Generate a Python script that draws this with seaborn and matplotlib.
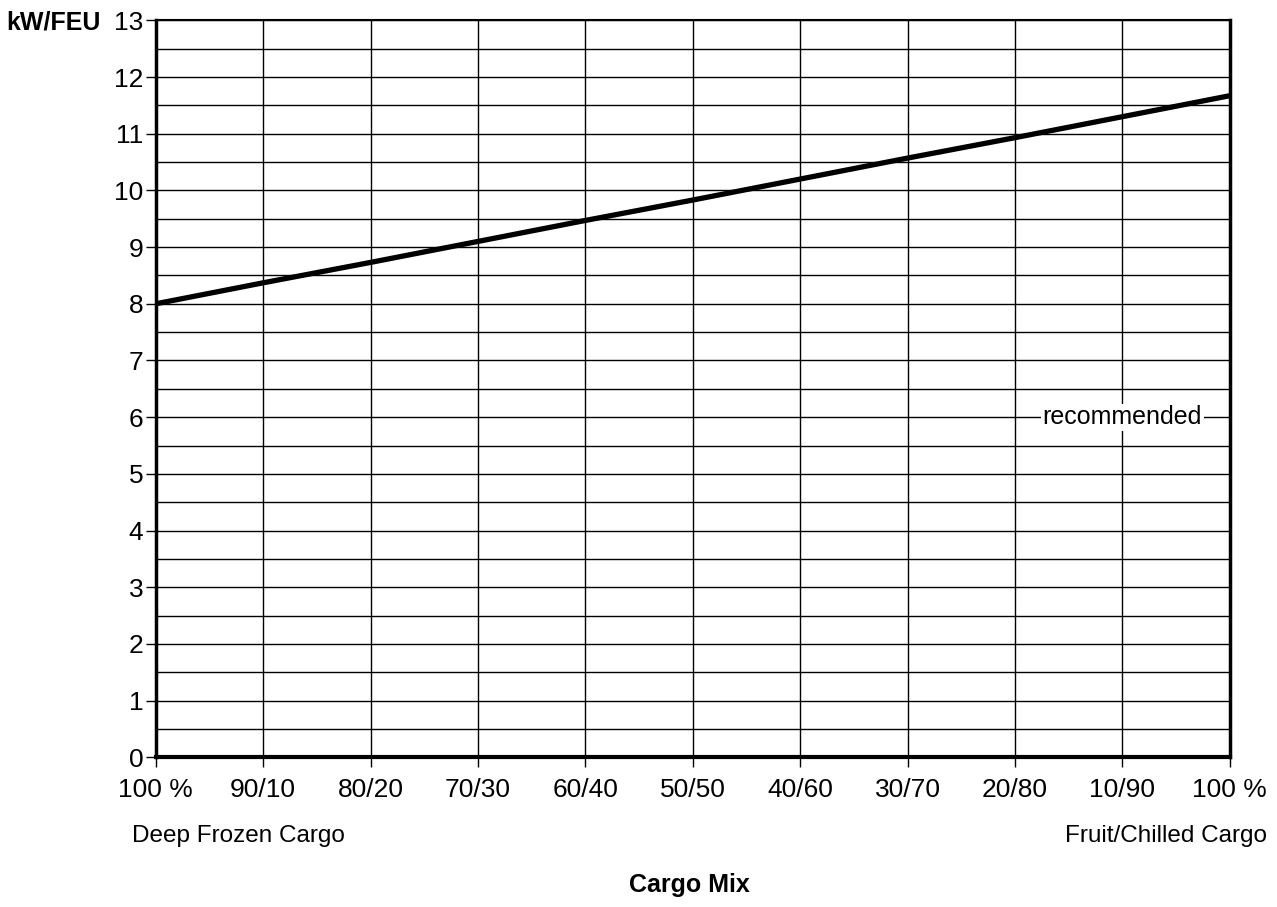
import seaborn as sns
import matplotlib.pyplot as plt
import pandas as pd
import numpy as np

# cargo mix categories (deep frozen / chilled)
mix_labels = ['100 %', '90/10', '80/20', '70/30', '60/40', '50/50',
              '40/60', '30/70', '20/80', '10/90', '100 %']
kw_per_feu = [8.0, 8.37, 8.73, 9.1, 9.47, 9.83, 10.2, 10.57, 10.93, 11.3, 11.67]
y_ticks = list(range(0, 14))

df = pd.DataFrame({'pos': np.arange(len(mix_labels)), 'kw': kw_per_feu})

sns.set_style('white')
plt.rcParams['font.family'] = ['Liberation Sans', 'DejaVu Sans']
plt.rcParams['text.color'] = 'black'
plt.rcParams['xtick.color'] = 'black'
plt.rcParams['ytick.color'] = 'black'

fig = plt.figure(figsize=(12.77, 9.07), dpi=100)
ax = fig.add_axes([0.122, 0.165, 0.841, 0.8126])

sns.lineplot(data=df, x='pos', y='kw', color='black', linewidth=3.8, ax=ax)

ax.set_xlim(0, len(mix_labels) - 1)
ax.set_ylim(0, 13)
ax.set_xticks(df['pos'])
ax.set_xticklabels(mix_labels, fontsize=19)
ax.set_yticks(y_ticks)
ax.set_yticklabels([str(t) for t in y_ticks], fontsize=19)
ax.set_yticks(np.arange(0.5, 13, 1), minor=True)

ax.grid(True, which='major', color='black', linewidth=1.0)
ax.grid(True, which='minor', axis='y', color='black', linewidth=1.0)
ax.tick_params(axis='both', which='major', direction='out', length=7,
               width=1, color='black', left=True, bottom=True)
ax.tick_params(axis='x', which='major', pad=8)
ax.tick_params(axis='y', which='major', pad=2)
ax.tick_params(axis='y', which='minor', length=0)
ax.set_axisbelow(True)

for side in ['left', 'right']:
    ax.spines[side].set_linewidth(2.5)
ax.spines['bottom'].set_linewidth(3)
ax.spines['top'].set_linewidth(1.5)
for s in ax.spines.values():
    s.set_color('black')

ax.set_xlabel('')
ax.set_ylabel('')

ax.text(9, 6, 'recommended', fontsize=18, ha='center', va='center',
        bbox=dict(facecolor='white', edgecolor='none', pad=1))

fig.text(0.005, 0.975, 'kW/FEU', fontsize=18, fontweight='bold',
         ha='left', va='center')
fig.text(0.103, 0.078, 'Deep Frozen Cargo', fontsize=17.5, ha='left', va='center')
fig.text(0.992, 0.078, 'Fruit/Chilled Cargo', fontsize=17.5, ha='right', va='center')
fig.text(0.540, 0.024, 'Cargo Mix', fontsize=18, fontweight='bold',
         ha='center', va='center')

fig.savefig('out.png', dpi=100)
